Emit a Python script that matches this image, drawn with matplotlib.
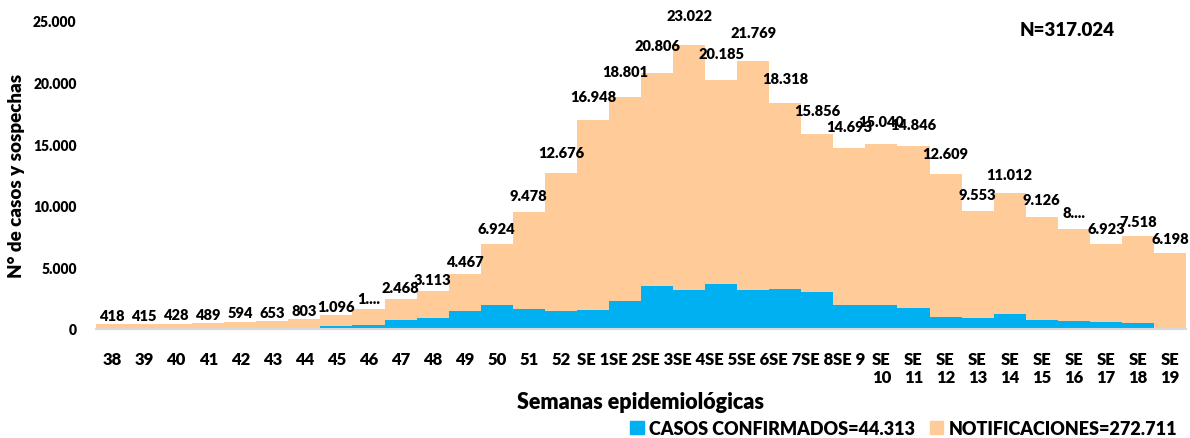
import matplotlib
matplotlib.use("Agg")
import matplotlib.pyplot as plt
from matplotlib.patches import Patch
import numpy as np

plt.rcParams["font.family"] = ["Lato", "DejaVu Sans"]
W = "heavy"

# semanas epidemiologicas
weeks = ["38", "39", "40", "41", "42", "43", "44", "45", "46", "47", "48", "49",
         "50", "51", "52", "SE 1", "SE 2", "SE 3", "SE 4", "SE 5", "SE 6", "SE 7",
         "SE 8", "SE 9", "SE\n10", "SE\n11", "SE\n12", "SE\n13", "SE\n14", "SE\n15",
         "SE\n16", "SE\n17", "SE\n18", "SE\n19"]

# total (casos + notificaciones) per week
totals = [418, 415, 428, 489, 594, 653, 803, 1096, 1650, 2468, 3113, 4467,
          6924, 9478, 12676, 16948, 18801, 20806, 23022, 20185, 21769, 18318,
          15856, 14693, 15040, 14846, 12609, 9553, 11012, 9126,
          8129, 6923, 7518, 6198]

# casos confirmados per week
confirmed = [30, 30, 30, 55, 65, 75, 120, 210, 360, 720, 900, 1450,
             1980, 1660, 1480, 1560, 2250, 3520, 3150, 3650, 3150, 3250,
             3030, 1980, 1960, 1690, 970, 900, 1180, 720,
             630, 550, 450, 100]

# labels that were cut off in the original chart
label_text = {"46": "1....", "SE\n16": "8...."}

legend_labels = ["CASOS CONFIRMADOS=44.313", "NOTIFICACIONES=272.711"]
total_text = "N=317.024"

c_conf = "#00B0F0"
c_notif = "#FFCC99"

totals = np.array(totals)
confirmed = np.array(confirmed)
notif = totals - confirmed
x = np.arange(len(weeks))

fig = plt.figure(figsize=(11.9, 4.39), dpi=100)
ax = fig.add_axes([0.0807, 0.2483, 0.9159, 0.7017])

ax.bar(x, confirmed, width=1.0, color=c_conf, linewidth=0)
ax.bar(x, notif, width=1.0, bottom=confirmed, color=c_notif, linewidth=0)

for xi, wk, tot in zip(x, weeks, totals):
    txt = label_text.get(wk, f"{tot:,}".replace(",", "."))
    ax.annotate(txt, (xi, tot * 1.075), xytext=(0, 6), textcoords="offset points",
                ha="center", va="center", fontsize=10.5, fontweight=W)

ax.set_xlim(-0.5, len(weeks) - 0.5)
ax.set_ylim(0, 25000)
ax.set_yticks(np.arange(0, 25001, 5000))
ax.set_yticklabels([f"{v:,}".replace(",", ".") for v in range(0, 25001, 5000)],
                   fontweight=W, fontsize=10)
ax.set_xticks(x)
ax.set_xticklabels(weeks, fontsize=12, linespacing=1.15, va="top", fontweight=W)

ax.tick_params(axis="both", length=0)
ax.tick_params(axis="y", pad=14)
ax.tick_params(axis="x", pad=16)
for side in ["top", "right", "left"]:
    ax.spines[side].set_visible(False)
ax.spines["bottom"].set_color("#D9D9D9")
ax.spines["bottom"].set_linewidth(1.5)

ax.set_ylabel("N° de casos y sospechas", fontsize=13.5, fontweight=W, labelpad=6)
ax.set_xlabel("Semanas epidemiológicas", fontsize=15.5, fontweight=W, labelpad=4)

fig.text(0.897, 0.93, total_text, fontsize=13.5, fontweight=W, ha="center", va="center")

handles = [Patch(color=c_conf), Patch(color=c_notif)]
fig.legend(handles, legend_labels, loc="lower right", bbox_to_anchor=(1.003, -0.035),
           ncol=2, frameon=False, handlelength=0.75, handleheight=0.75,
           handletextpad=0.3, columnspacing=0.8, prop={"weight": W, "size": 13})

fig.savefig("out.png", dpi=100)
